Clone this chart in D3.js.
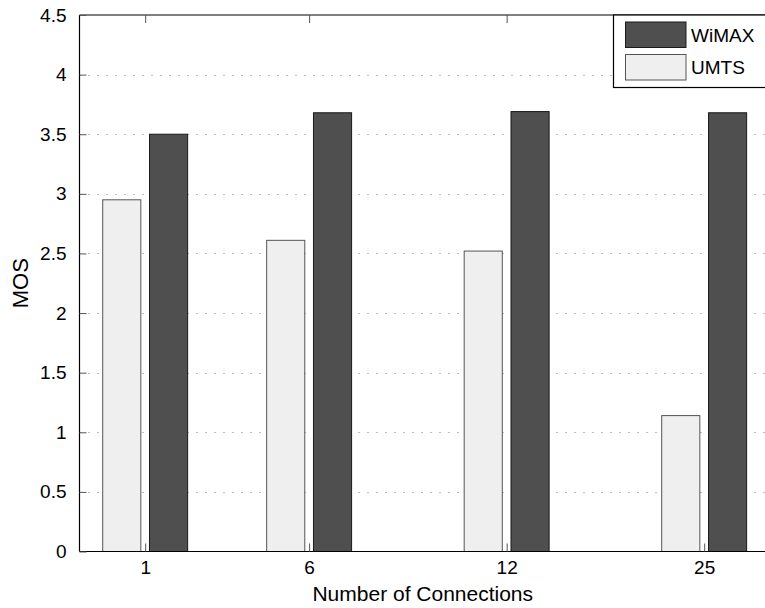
<!DOCTYPE html>
<html>
<head>
<meta charset="utf-8">
<script src="https://cdn.jsdelivr.net/npm/d3@7"></script>
<style>
  html, body { margin: 0; padding: 0; background: #fff; }
  svg { display: block; }
  text { font-family: "Liberation Sans", Arial, Helvetica, sans-serif; fill: #000; }
</style>
</head>
<body>
<svg id="chart" width="765" height="608"></svg>
<script>
// ---- data ----
const categories = ["1", "6", "12", "25"];
const categoryPositions = [1, 1.83, 2.83, 3.83];
const seriesNames = ["WiMAX", "UMTS"];
const umtsValues = [2.95, 2.61, 2.52, 1.14];
const wimaxValues = [3.50, 3.68, 3.69, 3.68];
const yTickValues = [0, 0.5, 1, 1.5, 2, 2.5, 3, 3.5, 4, 4.5];
const yTickLabels = ["0", "0.5", "1", "1.5", "2", "2.5", "3", "3.5", "4", "4.5"];

// ---- layout ----
const W = 765, H = 608;
const plot = { left: 79.5, right: 766, top: 15, bottom: 551.5 };
const colors = { WiMAX: "#4f4f4f", UMTS: "#efefef" };
const strokes = { WiMAX: "#1a1a1a", UMTS: "#555555" };

const svg = d3.select("#chart");

const x = d3.scaleLinear().domain([0.6675, 4.143]).range([plot.left, plot.right]);
const y = d3.scaleLinear().domain([0, 4.5]).range([plot.bottom, plot.top]);

const barW = 0.193, gap = 0.044;

// grid lines
const gridG = svg.append("g");
gridG.selectAll("line").data(yTickValues.filter(v => v > 0 && v < 4.5)).join("line")
  .attr("x1", plot.left).attr("x2", plot.right)
  .attr("y1", d => Math.round(y(d)) + 0.5).attr("y2", d => Math.round(y(d)) + 0.5)
  .attr("stroke", "#7a7a7a").attr("stroke-width", 1)
  .attr("stroke-dasharray", "1,8");

// bars
const data = categories.map((c, i) => ({ cat: c, pos: categoryPositions[i], UMTS: umtsValues[i], WiMAX: wimaxValues[i] }));
const barG = svg.append("g");
barG.selectAll("rect.umts").data(data).join("rect").attr("class", "umts")
  .attr("x", d => x(d.pos - gap / 2 - barW)).attr("width", d => x(d.pos - gap / 2) - x(d.pos - gap / 2 - barW))
  .attr("y", d => y(d.UMTS)).attr("height", d => y(0) - y(d.UMTS))
  .attr("fill", colors.UMTS).attr("stroke", strokes.UMTS).attr("stroke-width", 1);
barG.selectAll("rect.wimax").data(data).join("rect").attr("class", "wimax")
  .attr("x", d => x(d.pos + gap / 2)).attr("width", d => x(d.pos + gap / 2 + barW) - x(d.pos + gap / 2))
  .attr("y", d => y(d.WiMAX)).attr("height", d => y(0) - y(d.WiMAX))
  .attr("fill", colors.WiMAX).attr("stroke", strokes.WiMAX).attr("stroke-width", 1);

// axes (box)
const axG = svg.append("g");
axG.append("line").attr("x1", plot.left).attr("x2", plot.right).attr("y1", plot.bottom).attr("y2", plot.bottom)
  .attr("stroke", "#000").attr("stroke-width", 1.2);
axG.append("line").attr("x1", plot.left).attr("x2", plot.right).attr("y1", plot.top).attr("y2", plot.top)
  .attr("stroke", "#000").attr("stroke-width", 1.2);
axG.append("line").attr("x1", plot.left).attr("x2", plot.left).attr("y1", plot.top).attr("y2", plot.bottom)
  .attr("stroke", "#000").attr("stroke-width", 1.2);

// y ticks (inward) & labels via d3 axis
const yAxis = d3.axisLeft(y).tickValues(yTickValues).tickFormat((d, i) => yTickLabels[i]).tickSizeInner(-7).tickSizeOuter(0).tickPadding(13);
const yG = svg.append("g").attr("transform", `translate(${plot.left},0)`).call(yAxis);
yG.select(".domain").remove();
yG.selectAll(".tick line").attr("stroke", "#555");
yG.selectAll(".tick text").attr("font-size", 19).attr("font-family", "Liberation Sans, Arial, sans-serif").attr("fill", "#000");

// x ticks bottom (inward)
const xAxis = d3.axisBottom(x).tickValues(categoryPositions).tickFormat((d, i) => categories[i]).tickSizeInner(-8).tickSizeOuter(0).tickPadding(9);
const xG = svg.append("g").attr("transform", `translate(0,${plot.bottom})`).call(xAxis);
xG.select(".domain").remove();
xG.selectAll(".tick line").attr("stroke", "#555");
xG.selectAll(".tick text").attr("font-size", 19).attr("font-family", "Liberation Sans, Arial, sans-serif").attr("fill", "#000");

// x ticks top (inward)
const xTop = d3.axisTop(x).tickValues(categoryPositions).tickFormat("").tickSizeInner(-8).tickSizeOuter(0);
const xTG = svg.append("g").attr("transform", `translate(0,${plot.top})`).call(xTop);
xTG.select(".domain").remove();
xTG.selectAll(".tick line").attr("stroke", "#555");

// axis titles
svg.append("text").attr("x", (plot.left + plot.right) / 2).attr("y", 601)
  .attr("text-anchor", "middle").attr("font-size", 21).text("Number of Connections");
svg.append("text").attr("transform", `translate(28,${(plot.top + plot.bottom) / 2}) rotate(-90)`)
  .attr("text-anchor", "middle").attr("font-size", 22).text("MOS");

// legend
const lg = svg.append("g");
lg.append("rect").attr("x", 613.5).attr("y", plot.top).attr("width", 160).attr("height", 72.5)
  .attr("fill", "#fff").attr("stroke", "#000").attr("stroke-width", 1.2);
const legendItems = seriesNames.map((s, i) => ({ name: s, i }));
lg.selectAll("rect.sw").data(legendItems).join("rect").attr("class", "sw")
  .attr("x", 625.5).attr("y", d => 22 + d.i * 32.5).attr("width", 60.5).attr("height", 25.5)
  .attr("fill", d => colors[d.name]).attr("stroke", d => strokes[d.name]).attr("stroke-width", 1);
lg.selectAll("text.lt").data(legendItems).join("text").attr("class", "lt")
  .attr("x", 691).attr("y", d => 35 + d.i * 32.5).attr("dy", "0.35em")
  .attr("font-size", 19).text(d => d.name);
</script>
</body>
</html>
